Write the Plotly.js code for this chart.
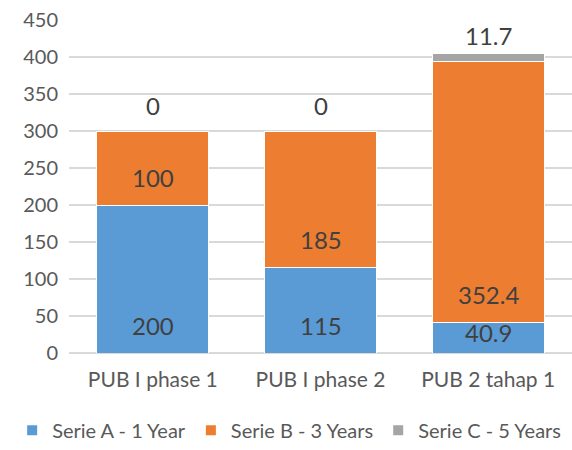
<!DOCTYPE html>
<html><head><meta charset="utf-8">
<script src="https://cdn.plot.ly/plotly-3.0.1.min.js"></script>
<style>html,body{margin:0;padding:0;background:#fff}#chart{width:572px;height:450px}</style>
</head><body><div id="chart"></div>
<script>
const categories = ["PUB I phase 1", "PUB I phase 2", "PUB 2 tahap 1"];
const serieA = [200, 115, 40.9];
const serieB = [100, 185, 352.4];
const serieC = [0, 0, 11.7];
const seriesNames = ["Serie A - 1 Year", "Serie B - 3 Years", "Serie C - 5 Years"];
const colors = ["#5B9BD5", "#ED7D31", "#A5A5A5"];
const yTicks = [0, 50, 100, 150, 200, 250, 300, 350, 400, 450];

const FONT = "Lato, 'Open Sans', sans-serif";
const allSeries = [serieA, serieB, serieC];
const traces = allSeries.map((vals, i) => ({
  type: "bar", x: categories, y: vals, name: seriesNames[i],
  marker: {color: colors[i], line: {color: "#ffffff", width: 1}},
  hoverinfo: "skip"
}));

const plotH = 450 - 20 - 97;
const pxPerUnit = plotH / 450;
const annotations = [];
categories.forEach((c, j) => {
  let base = 0;
  allSeries.forEach((vals, i) => {
    const v = vals[j];
    const segPx = v * pxPerUnit;
    let shift = (i === 2) ? 26 : 28;
    if (i === 0 && segPx < 50) shift = segPx / 2 + 5;
    annotations.push({
      x: c, y: base, xref: "x", yref: "y", text: String(v),
      showarrow: false, yanchor: "middle", yshift: shift,
      font: {family: FONT, size: 24, color: "#404040"}
    });
    base += v;
  });
});

const layout = {
  width: 572, height: 450,
  margin: {l: 69, r: 0, t: 20, b: 97},
  paper_bgcolor: "#fff", plot_bgcolor: "#fff",
  barmode: "stack", bargap: 0.333,
  font: {family: FONT, size: 20, color: "#595959"},
  xaxis: {showgrid: false, showline: false, ticks: "", ticklabelstandoff: 12,
          tickfont: {family: FONT, size: 21, color: "#595959"}},
  yaxis: {range: [0, 450], tickvals: yTicks, showgrid: true, gridcolor: "#D9D9D9", gridwidth: 1.5,
          zeroline: true, zerolinecolor: "#D9D9D9", zerolinewidth: 2, showline: false, ticks: "",
          ticklabelstandoff: 10, tickfont: {family: FONT, size: 20, color: "#595959"}},
  legend: {orientation: "h", x: -0.113, xref: "paper", xanchor: "left",
           y: -0.232, yref: "paper", yanchor: "middle",
           font: {family: FONT, size: 20, color: "#595959"}, traceorder: "normal",
           itemwidth: 30, itemsizing: "constant", tracegroupgap: 0},
  annotations: annotations,
  showlegend: true
};
Plotly.newPlot("chart", traces, layout, {displayModeBar: false, staticPlot: true});
</script></body></html>
